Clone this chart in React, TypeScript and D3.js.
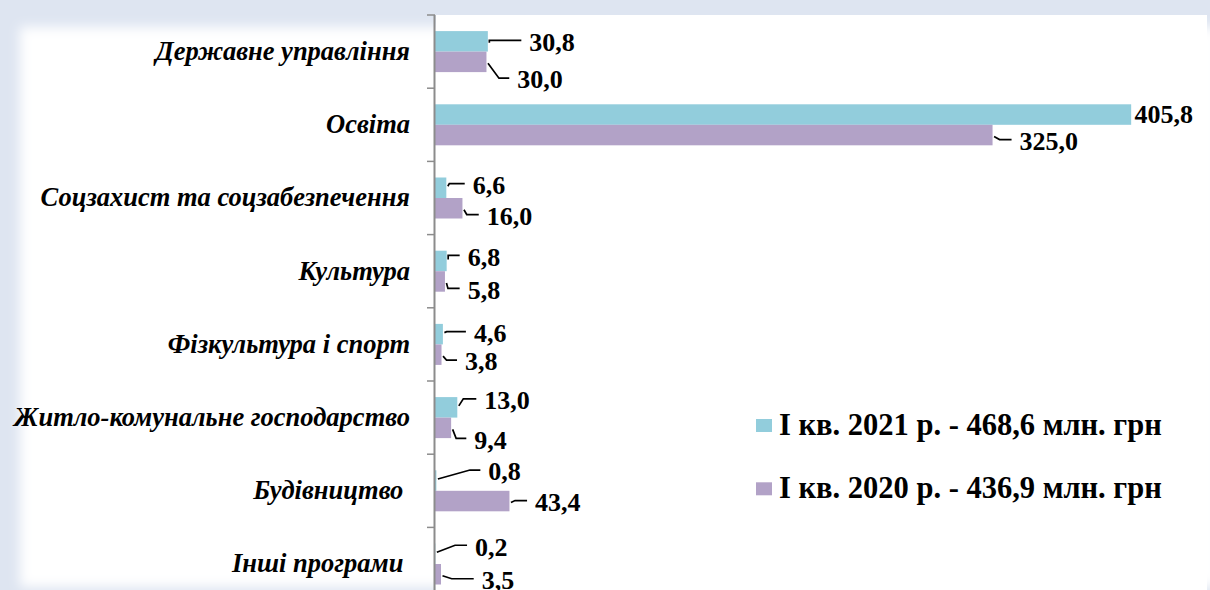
import React from 'react';
import * as d3 from 'd3';

const categories = [
  'Державне управління',
  'Освіта',
  'Соцзахист та соцзабезпечення',
  'Культура',
  'Фізкультура і спорт',
  'Житло-комунальне господарство',
  'Будівництво\u00A0',
  'Інші програми\u00A0',
];
const values2021 = [30.8, 405.8, 6.6, 6.8, 4.6, 13.0, 0.8, 0.2];
const values2020 = [30.0, 325.0, 16.0, 5.8, 3.8, 9.4, 43.4, 3.5];
const seriesKeys = ['2021', '2020'];
const seriesNames = ['I кв. 2021 р. - 468,6 млн. грн', 'I кв. 2020 р. - 436,9 млн. грн'];
const seriesColors = ['#92CDDC', '#B2A2C7'];

// manual label placement (dx, dy from bar end, leader bend x; null = no leader)
const labelPos2021: [number, number, number | null][] = [
  [41.5, 0.6, 0], [3.3, 0, null], [26.4, -2.7, 3], [21, -4, 1.3],
  [31, -1, 3.8], [27, -7, 6], [52, -9, 33.6], [39.7, -7, 19.7],
];
const labelPos2020: [number, number, number | null][] = [
  [30.8, 17.8, 12.5], [27, 6, 7], [24.3, 7.8, 4.3], [22.7, 8.5, 3],
  [23.5, 7, 5], [23.2, 12, 5], [25.6, 1, 5.6], [40.7, 6, 10.7],
];

const W = 1210;
const H = 590;
const FONT = 'Liberation Serif';
const fmt = (v: number) => v.toFixed(1).replace('.', ',');

export default function App() {
  const y = d3.scaleBand<string>().domain(categories).range([15, 600.6]);
  const y1 = d3.scaleBand<string>().domain(seriesKeys).range([0, y.step()]).paddingOuter(0.785);
  const x = d3.scaleLinear().domain([0, 450]).range([435, 1207]);

  const series = [values2021, values2020];
  const positions = [labelPos2021, labelPos2020];

  return (
    <svg width={W} height={H} style={{ position: 'absolute', left: 0, top: 0 }}>
      <defs>
        <filter id="soft" x="-5%" y="-5%" width="110%" height="110%">
          <feGaussianBlur stdDeviation="6" />
        </filter>
      </defs>
      <rect width={W} height={H} fill="#dee5f1" />
      <rect x={20} y={27} width={1200} height={560} fill="#fff" filter="url(#soft)" />
      <rect x={436} y={15} width={771} height={H - 15} fill="#fff" />

      {categories.map((c, i) =>
        seriesKeys.map((k, s) => {
          const v = series[s][i];
          const by = (y(c) ?? 0) + (y1(k) ?? 0);
          return (
            <rect key={c + k} x={x(0)} y={by} width={x(v) - x(0)} height={y1.bandwidth()}
              fill={seriesColors[s]} />
          );
        })
      )}

      <line x1={434.5} x2={434.5} y1={15} y2={H} stroke="#8c8c8c" strokeWidth={2} />
      {d3.range(categories.length + 1).map(i => {
        const ty = 15 + i * y.step();
        return <line key={i} x1={427} x2={435} y1={ty} y2={ty} stroke="#8c8c8c" strokeWidth={1.5} />;
      })}

      {categories.map(c => (
        <text key={c} x={410} y={(y(c) ?? 0) + y.bandwidth() / 2} dy="0.32em" textAnchor="end"
          fontFamily={FONT} fontSize={26.5} fontWeight="bold" fontStyle="italic" fill="#000">
          {c}
        </text>
      ))}

      {categories.map((c, i) =>
        seriesKeys.map((k, s) => {
          const v = series[s][i];
          const [dx, dy, bend] = positions[s][i];
          const ex = x(v);
          const cy = (y(c) ?? 0) + (y1(k) ?? 0) + y1.bandwidth() / 2;
          const lx = ex + dx;
          const ly = cy + dy;
          const ry = ly - 1.5;
          const sy = cy + Math.sign(dy) * 1.5;
          const path = bend === null ? null : d3.line()([[ex + 1.5, sy], [ex + Math.max(bend, 1.5), ry], [lx - 8, ry]]);
          return (
            <g key={'l' + c + k}>
              {path && <path d={path} fill="none" stroke="#000" strokeWidth={1.7} />}
              <text x={lx} y={ly} dy="0.34em" fontFamily={FONT} fontSize={26} fontWeight="bold" fill="#000">
                {fmt(v)}
              </text>
            </g>
          );
        })
      )}

      {seriesNames.map((n, s) => {
        const base = [435, 498.3][s];
        return (
          <g key={n}>
            <rect x={756} y={base - 16} width={16} height={13} fill={seriesColors[s]} />
            <text x={779} y={base} fontFamily={FONT} fontSize={30.5} fontWeight="bold" fill="#000">{n}</text>
          </g>
        );
      })}
    </svg>
  );
}
